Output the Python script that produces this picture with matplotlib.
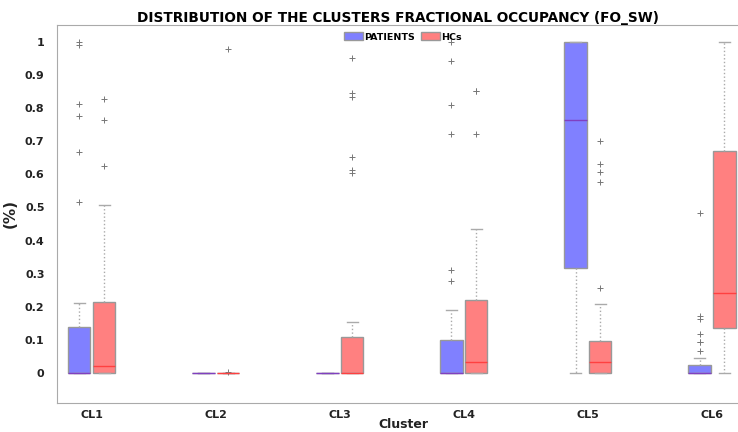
import numpy as np
import matplotlib
matplotlib.use("Agg")
import matplotlib.pyplot as plt
from matplotlib.patches import Patch

clusters = ["CL1", "CL2", "CL3", "CL4", "CL5", "CL6"]

# box statistics: q1, median, q3, lower whisker, upper whisker
pat_q1 = [0.0, 0.0, 0.0, 0.0, 0.316, 0.0]
pat_med = [0.0, 0.0, 0.0, 0.0, 0.764, 0.0]
pat_q3 = [0.140, 0.0, 0.0, 0.100, 1.0, 0.026]
pat_wlo = [0.0, 0.0, 0.0, 0.0, 0.0, 0.0]
pat_whi = [0.212, 0.0, 0.0, 0.189, 1.0, 0.046]
pat_fliers = [
    [1.0, 0.990, 0.813, 0.776, 0.667, 0.515],
    [],
    [],
    [1.0, 0.942, 0.809, 0.721, 0.311, 0.279],
    [],
    [0.483, 0.172, 0.164, 0.119, 0.093, 0.093, 0.068],
]

hc_q1 = [0.0, 0.0, 0.0, 0.0, 0.0, 0.137]
hc_med = [0.021, 0.0, 0.0, 0.035, 0.035, 0.242]
hc_q3 = [0.2145, 0.0, 0.110, 0.2195, 0.098, 0.669]
hc_wlo = [0.0, 0.0, 0.0, 0.0, 0.0, 0.0]
hc_whi = [0.507, 0.0, 0.153, 0.435, 0.210, 1.0]
hc_fliers = [
    [0.826, 0.763, 0.625],
    [0.979, 0.002],
    [0.950, 0.845, 0.833, 0.651, 0.613, 0.605],
    [0.851, 0.851, 0.721],
    [0.701, 0.631, 0.606, 0.576, 0.257],
    [],
]


def make_stats(q1, med, q3, wlo, whi, fl):
    out = []
    for i in range(len(q1)):
        out.append({"q1": q1[i], "med": med[i], "q3": q3[i],
                    "whislo": wlo[i], "whishi": whi[i], "fliers": fl[i]})
    return out


fig = plt.figure(figsize=(7.38, 4.32), dpi=100)
ax = fig.add_axes([57 / 738, 29 / 432, 1 - 57 / 738, 378 / 432])

x = np.arange(1, len(clusters) + 1)
off = 0.1
w = 0.18

groups = [
    (make_stats(pat_q1, pat_med, pat_q3, pat_wlo, pat_whi, pat_fliers), x - off, "#8080ff", "#8040c0"),
    (make_stats(hc_q1, hc_med, hc_q3, hc_wlo, hc_whi, hc_fliers), x + off, "#ff8080", "#ff4040"),
]
for stats, pos, fc, mc in groups:
    ax.bxp(stats, positions=pos, widths=w, patch_artist=True, showfliers=True,
           capwidths=w / 2, manage_ticks=False,
           boxprops=dict(facecolor=fc, edgecolor="#999999", linewidth=1.0),
           medianprops=dict(color=mc, linewidth=1.0),
           whiskerprops=dict(color="#aaaaaa", linestyle=":", linewidth=1.0),
           capprops=dict(color="#aaaaaa", linewidth=1.0),
           flierprops=dict(marker="+", markeredgecolor="#777777", markersize=5,
                           markeredgewidth=0.7, linestyle="none"))

ax.set_xlim(0.72, 6.21)
ax.set_ylim(-0.09, 1.05)
ax.set_xticks(x)
ax.set_xticklabels(clusters)
ax.set_yticks(np.round(np.arange(0, 1.01, 0.1), 1))
ax.set_yticklabels(["0"] + ["%.1f" % v for v in np.arange(0.1, 0.95, 0.1)] + ["1"])
ax.tick_params(length=0, labelsize=8, colors="#222222")
ax.tick_params(axis="y", pad=9)
ax.tick_params(axis="x", pad=5)
for lab in ax.get_xticklabels() + ax.get_yticklabels():
    lab.set_fontweight("bold")

for s in ["top", "left", "bottom"]:
    ax.spines[s].set_color("#aaaaaa")
ax.spines["right"].set_visible(False)

ax.set_title("DISTRIBUTION OF THE CLUSTERS FRACTIONAL OCCUPANCY (FO_SW)",
             fontsize=9.8, fontweight="bold", pad=2)
ax.set_xlabel("Cluster", fontsize=9, fontweight="bold", color="#222222", labelpad=0)
ax.xaxis.set_label_coords(0.508, -0.04)
ax.set_ylabel("(%)", fontsize=11, fontweight="bold", color="#222222")
ax.yaxis.set_label_coords(-57 / 681 + 18 / 681, 0.5)

handles = [Patch(facecolor="#8080ff", edgecolor="#999999", label="PATIENTS"),
           Patch(facecolor="#ff8080", edgecolor="#999999", label="HCs")]
ax.legend(handles=handles, loc="upper center", bbox_to_anchor=(0.508, 0.998), ncol=2,
          frameon=False, prop=dict(size=6.8, weight="bold"), handlelength=2.0,
          handleheight=0.9, handletextpad=0.2, columnspacing=0.6, borderpad=0.2)

fig.savefig("out.png", dpi=100)
